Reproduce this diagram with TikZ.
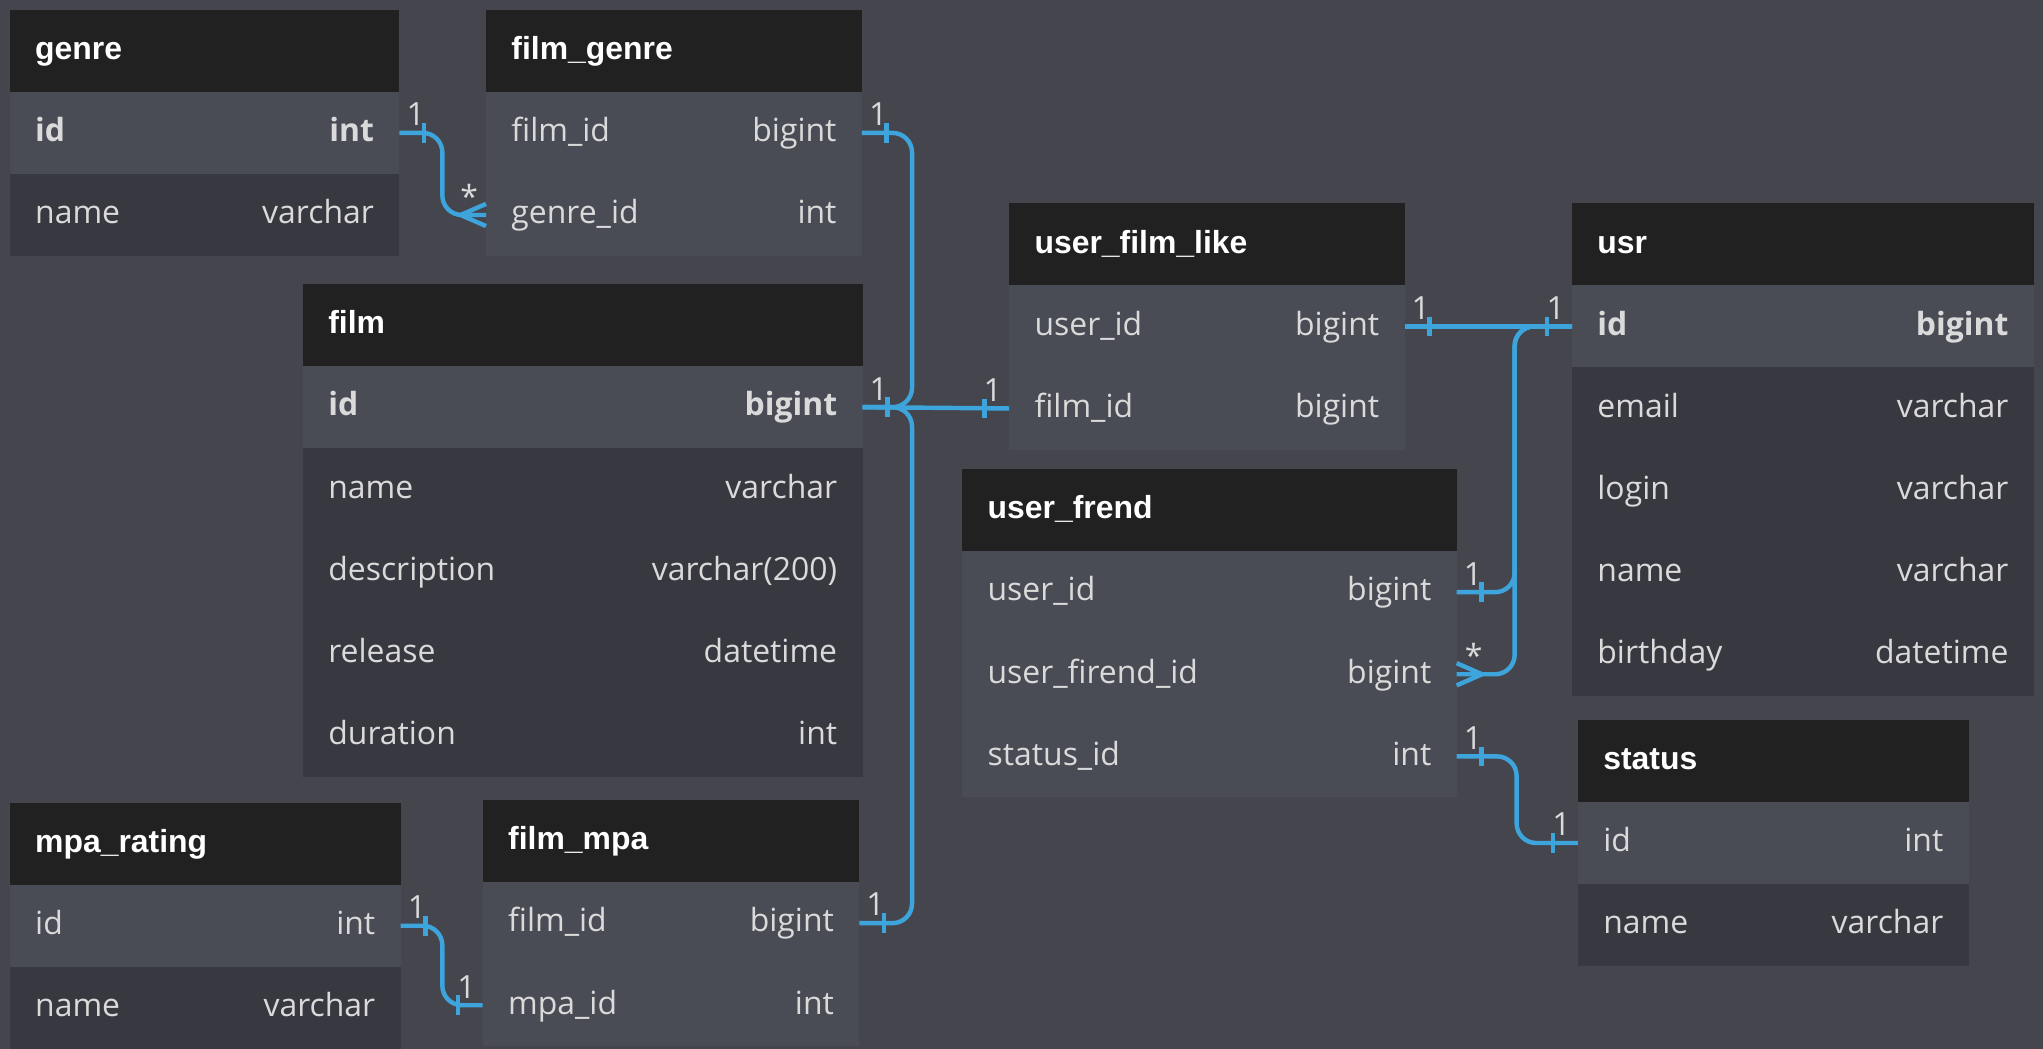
\documentclass[tikz,border=0pt]{standalone}
\usepackage{fontspec}
\setmainfont{Open Sans}
\newfontfamily\headfont{Liberation Sans}
\usetikzlibrary{positioning,calc}

\definecolor{canvas}{RGB}{69,69,78}
\definecolor{headbg}{RGB}{33,33,33}
\definecolor{keyrow}{RGB}{74,76,85}
\definecolor{plainrow}{RGB}{56,56,64}
\definecolor{fieldtxt}{RGB}{218,218,218}
\definecolor{relblue}{RGB}{61,165,220}

% marca "1" (#2 = 1 lado direito, -1 lado esquerdo)
\newcommand{\markone}[2]{%
  \draw[rel] ($(#1)+(#2*19,-7.5)$) -- ++(0,15);
  \node[card] at ($(#1)+(#2*12.5,-5.5)$) {1};}
% pe de galinha "*"
\newcommand{\markmany}[2]{%
  \draw[rel] ($(#1)+(#2*19.5,0)$) -- ($(#1)+(0,-8.5)$);
  \draw[rel] ($(#1)+(#2*19.5,0)$) -- ($(#1)+(0,8.5)$);
  \node[card] at ($(#1)+(#2*13,-5)$) {*};}

\begin{document}
\begin{tikzpicture}[x=1pt, y=-1pt,
    head/.style={fill=headbg, text=white, font=\headfont\bfseries\fontsize{24.5}{29}\selectfont,
      minimum height=63pt, inner xsep=19.5pt, inner ysep=0pt, outer sep=0pt,
      text height=18pt, text depth=4.5pt, anchor=north west},
    lrow/.style={fill=keyrow, text=fieldtxt, font=\fontsize{24.5}{29}\selectfont,
      minimum height=63pt, inner xsep=19.5pt, inner ysep=0pt, outer sep=0pt,
      text height=18pt, text depth=4.5pt},
    drow/.style={lrow, fill=plainrow},
    rel/.style={draw=relblue, line width=3.4pt},
    link/.style={rel, rounded corners=15pt},
    card/.style={text=fieldtxt, font=\fontsize{24.5}{29}\selectfont, inner sep=0pt, anchor=base}]
  \useasboundingbox (0,0) rectangle (1568,805);
  \fill[canvas] (0,0) rectangle (1568,805);

  % genre
  \node[head] (genre) at (7.5,7.5) {\makebox[260pt][l]{genre}};
  \node[lrow, below=0pt of genre] (genre-id) {\makebox[260pt]{\bfseries id\hfill int}};
  \node[drow, below=0pt of genre-id] (genre-name) {\makebox[260pt]{name\hfill varchar}};

  % film_genre
  \node[head] (fgenre) at (373,7.5) {\makebox[249.5pt][l]{film\_genre}};
  \node[lrow, below=0pt of fgenre] (fgenre-film) {\makebox[249.5pt]{film\_id\hfill bigint}};
  \node[lrow, below=0pt of fgenre-film] (fgenre-genre) {\makebox[249.5pt]{genre\_id\hfill int}};

  % film
  \node[head] (film) at (232.5,218) {\makebox[390.5pt][l]{film}};
  \node[lrow, below=0pt of film] (film-id) {\makebox[390.5pt]{\bfseries id\hfill bigint}};
  \node[drow, below=0pt of film-id] (film-name) {\makebox[390.5pt]{name\hfill varchar}};
  \node[drow, below=0pt of film-name] (film-desc) {\makebox[390.5pt]{description\hfill varchar(200)}};
  \node[drow, below=0pt of film-desc] (film-release) {\makebox[390.5pt]{release\hfill datetime}};
  \node[drow, below=0pt of film-release] (film-duration) {\makebox[390.5pt]{duration\hfill int}};

  % user_film_like
  \node[head] (ufl) at (774.5,156) {\makebox[264.5pt][l]{user\_film\_like}};
  \node[lrow, below=0pt of ufl] (ufl-user) {\makebox[264.5pt]{user\_id\hfill bigint}};
  \node[lrow, below=0pt of ufl-user] (ufl-film) {\makebox[264.5pt]{film\_id\hfill bigint}};

  % usr
  \node[head] (usr) at (1206.5,156) {\makebox[315.5pt][l]{usr}};
  \node[lrow, below=0pt of usr] (usr-id) {\makebox[315.5pt]{\bfseries id\hfill bigint}};
  \node[drow, below=0pt of usr-id] (usr-email) {\makebox[315.5pt]{email\hfill varchar}};
  \node[drow, below=0pt of usr-email] (usr-login) {\makebox[315.5pt]{login\hfill varchar}};
  \node[drow, below=0pt of usr-login] (usr-name) {\makebox[315.5pt]{name\hfill varchar}};
  \node[drow, below=0pt of usr-name] (usr-birthday) {\makebox[315.5pt]{birthday\hfill datetime}};

  % user_frend
  \node[head] (uf) at (738.5,360) {\makebox[340.5pt][l]{user\_frend}};
  \node[lrow, below=0pt of uf] (uf-user) {\makebox[340.5pt]{user\_id\hfill bigint}};
  \node[lrow, below=0pt of uf-user] (uf-friend) {\makebox[340.5pt]{user\_firend\_id\hfill bigint}};
  \node[lrow, below=0pt of uf-friend] (uf-status) {\makebox[340.5pt]{status\_id\hfill int}};

  % status
  \node[head] (status) at (1211,552.5) {\makebox[261pt][l]{status}};
  \node[lrow, below=0pt of status] (status-id) {\makebox[261pt]{id\hfill int}};
  \node[drow, below=0pt of status-id] (status-name) {\makebox[261pt]{name\hfill varchar}};

  % mpa_rating
  \node[head] (mpa) at (7.5,616) {\makebox[261pt][l]{mpa\_rating}};
  \node[lrow, below=0pt of mpa] (mpa-id) {\makebox[261pt]{id\hfill int}};
  \node[drow, below=0pt of mpa-id] (mpa-name) {\makebox[261pt]{name\hfill varchar}};

  % film_mpa
  \node[head] (fmpa) at (370.5,614) {\makebox[250pt][l]{film\_mpa}};
  \node[lrow, below=0pt of fmpa] (fmpa-film) {\makebox[250pt]{film\_id\hfill bigint}};
  \node[lrow, below=0pt of fmpa-film] (fmpa-mpa) {\makebox[250pt]{mpa\_id\hfill int}};

  % Ligacoes
  \coordinate (filmhub) at ($(film-id.east)+(38,0)$);
  \coordinate (usrhub) at ($(usr-id.west)+(-44,0)$);
  \draw[link] (genre-id.east) -- ++(33,0) |- (fgenre-genre.west);
  \draw[link] (fgenre-film.east) -| (filmhub) -- (film-id.east);
  \draw[link] (fmpa-film.east) -| (filmhub) -- (film-id.east);
  \draw[rel] (film-id.east) -- (ufl-film.west);
  \draw[rel] (ufl-user.east) -- (usr-id.west);
  \draw[link] (uf-user.east) -| (usrhub) -- (usr-id.west);
  \draw[link] (uf-friend.east) -| (usrhub) -- (usr-id.west);
  \draw[link] (uf-status.east) -- ++(46,0) |- (status-id.west);
  \draw[link] (mpa-id.east) -- ++(32,0) |- (fmpa-mpa.west);

  % Cardinalidades
  \markone{genre-id.east}{1}
  \markmany{fgenre-genre.west}{-1}
  \markone{fgenre-film.east}{1}
  \markone{film-id.east}{1}
  \markone{ufl-film.west}{-1}
  \markone{ufl-user.east}{1}
  \markone{usr-id.west}{-1}
  \markone{uf-user.east}{1}
  \markmany{uf-friend.east}{1}
  \markone{uf-status.east}{1}
  \markone{status-id.west}{-1}
  \markone{mpa-id.east}{1}
  \markone{fmpa-mpa.west}{-1}
  \markone{fmpa-film.east}{1}
\end{tikzpicture}
\end{document}
